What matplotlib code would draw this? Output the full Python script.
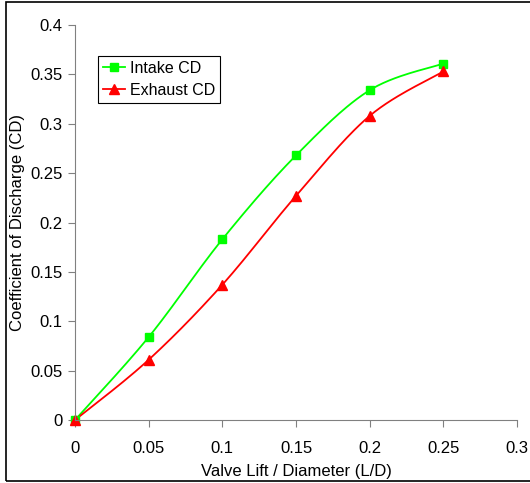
import matplotlib.pyplot as plt
import numpy as np
from matplotlib.patches import Rectangle

plt.rcParams['font.family'] = ['Liberation Sans', 'DejaVu Sans']

lift = [0, 0.05, 0.1, 0.15, 0.2, 0.25]
intake_cd = [0.0, 0.084, 0.183, 0.268, 0.334, 0.361]
exhaust_cd = [0.0, 0.061, 0.137, 0.227, 0.308, 0.353]
xticks = [0, 0.05, 0.1, 0.15, 0.2, 0.25, 0.3]
yticks = [0, 0.05, 0.1, 0.15, 0.2, 0.25, 0.3, 0.35, 0.4]


def smooth(xs, ys, n=30):
    # Excel style smoothing: cubic bezier with catmull-rom control points
    xs = np.asarray(xs, float)
    ys = np.asarray(ys, float)
    px = np.concatenate([[xs[0]], xs, [xs[-1]]])
    py = np.concatenate([[ys[0]], ys, [ys[-1]]])
    t = np.linspace(0, 1, n)
    ox, oy = [], []
    for i in range(1, len(px) - 2):
        p0 = np.array([px[i], py[i]])
        p3 = np.array([px[i + 1], py[i + 1]])
        c1 = p0 + (p3 - np.array([px[i - 1], py[i - 1]])) / 6
        c2 = p3 - (np.array([px[i + 2], py[i + 2]]) - p0) / 6
        b = ((1 - t) ** 3)[:, None] * p0 + (3 * (1 - t) ** 2 * t)[:, None] * c1 \
            + (3 * (1 - t) * t ** 2)[:, None] * c2 + (t ** 3)[:, None] * p3
        ox.extend(b[:, 0])
        oy.extend(b[:, 1])
    return ox, oy


fig = plt.figure(figsize=(5.3, 4.83), dpi=100)
ax = fig.add_axes([0.1415, 0.1304, 0.834, 0.8178])

sx, sy = smooth(lift, intake_cd)
ax.plot(sx, sy, color='#00ff00', lw=1.3)
sx, sy = smooth(lift, exhaust_cd)
ax.plot(sx, sy, color='#ff0000', lw=1.3)
ax.plot(lift, intake_cd, 's', color='#00ff00', ms=6, clip_on=False)
ax.plot(lift, exhaust_cd, '^', color='#ff0000', ms=7, clip_on=False)

# legend handles
ax.plot([], [], '-s', color='#00ff00', ms=6, lw=1.3, label='Intake CD')
ax.plot([], [], '-^', color='#ff0000', ms=7, lw=1.3, label='Exhaust CD')
leg = ax.legend(loc='upper left', bbox_to_anchor=(0.052, 0.922), fontsize=11.5,
                fancybox=False, framealpha=1, edgecolor='black', borderpad=0.3,
                handlelength=1.4, handletextpad=0.3, labelspacing=0.45, borderaxespad=0)
leg.get_frame().set_linewidth(0.8)

ax.set_xlim(0, 0.3)
ax.set_ylim(0, 0.4)
ax.set_xticks(xticks)
ax.set_xticklabels([f'{v:g}' for v in xticks])
ax.set_yticks(yticks)
ax.set_yticklabels([f'{v:g}' for v in yticks])
ax.spines['top'].set_visible(False)
ax.spines['right'].set_visible(False)
for s in ['left', 'bottom']:
    ax.spines[s].set_color('#808080')
ax.tick_params(direction='out', length=5, color='#808080', labelsize=12)
ax.tick_params(axis='x', pad=10)
ax.tick_params(axis='y', pad=4)
ax.set_xlabel('Valve Lift / Diameter (L/D)', fontsize=12, labelpad=6)
ax.set_ylabel('Coefficient of Discharge (CD)', fontsize=12)
ax.yaxis.set_label_coords(-0.113, 0.5)

fig.patches.append(Rectangle((5.5 / 530, 2 / 483), 1.1, 479 / 483, transform=fig.transFigure,
                             fill=False, edgecolor='black', lw=1.2))

fig.savefig('out.png', dpi=100)
